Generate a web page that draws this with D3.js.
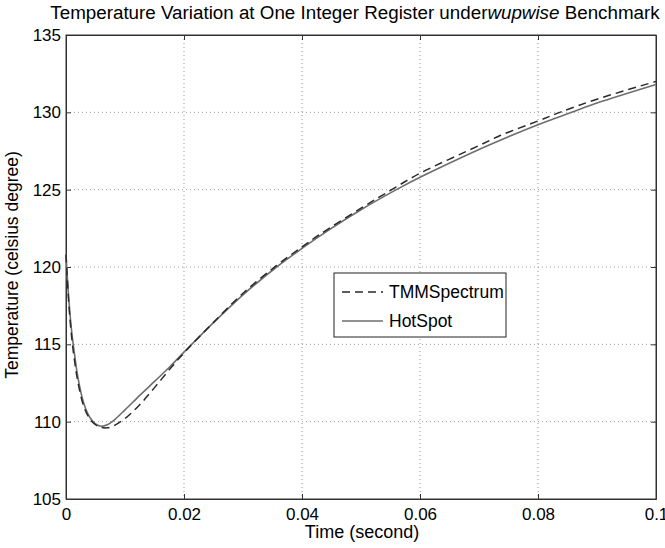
<!DOCTYPE html>
<html>
<head>
<meta charset="utf-8">
<script src="https://cdn.jsdelivr.net/npm/d3@7"></script>
<style>
  body { margin: 0; background: #fff; }
  text { font-family: "Liberation Sans", Arial, sans-serif; fill: #000; }
</style>
</head>
<body>
<div id="chart"></div>
<script>
// time (second) and temperature (celsius degree)
const timeTMM = [0, 0.0005, 0.001, 0.0015, 0.002, 0.003, 0.004, 0.005, 0.006, 0.007, 0.008, 0.01, 0.0125, 0.015, 0.0176, 0.02, 0.022, 0.025, 0.03, 0.0357, 0.04, 0.043, 0.05, 0.0552, 0.06, 0.07, 0.0736, 0.08, 0.0837, 0.09, 0.1];
const tempTMM = [120.8, 117.5, 115.3, 113.8, 112.6, 111.0, 110.2, 109.8, 109.62, 109.6, 109.72, 110.2, 111.1, 112.2, 113.4, 114.45, 115.25, 116.42, 118.3, 120.1, 121.3, 122.1, 123.8, 125.0, 126.06, 127.85, 128.5, 129.44, 130.0, 130.85, 132.0];

const timeHot = [0, 0.0005, 0.001, 0.0015, 0.002, 0.003, 0.004, 0.005, 0.006, 0.007, 0.008, 0.01, 0.0125, 0.015, 0.0176, 0.02, 0.0213, 0.025, 0.03, 0.0357, 0.04, 0.043, 0.05, 0.056, 0.06, 0.07, 0.0736, 0.08, 0.0857, 0.09, 0.1];
const tempHot = [120.8, 117.8, 115.7, 114.2, 112.9, 111.2, 110.3, 109.85, 109.7, 109.8, 110.05, 110.76, 111.7, 112.6, 113.55, 114.5, 115.0, 116.4, 118.2, 120.0, 121.2, 122.0, 123.7, 125.0, 125.8, 127.6, 128.2, 129.2, 130.0, 130.6, 131.8];

const xTicks = [0, 0.02, 0.04, 0.06, 0.08, 0.1];
const yTicks = [105, 110, 115, 120, 125, 130, 135];
const seriesNames = ["TMMSpectrum", "HotSpot"];

const margin = {top: 35, right: 9, bottom: 49, left: 66},
    width = 665 - margin.left - margin.right,
    height = 548 - margin.top - margin.bottom;

const root = d3.select("#chart")
  .append("svg")
    .attr("width", 665)
    .attr("height", 548);

const svg = root.append("g")
    .attr("transform", "translate(" + margin.left + "," + margin.top + ")");

const x = d3.scaleLinear().domain([0, 0.1]).range([0, width]);
const y = d3.scaleLinear().domain([105, 135]).range([height, 0]);

// dotted grid
svg.append("g")
  .selectAll("line")
  .data(xTicks.slice(1, -1))
  .join("line")
    .attr("x1", d => x(d)).attr("x2", d => x(d))
    .attr("y1", 0).attr("y2", height)
    .attr("stroke", "#999")
    .attr("stroke-dasharray", "1,3");

svg.append("g")
  .selectAll("line")
  .data(yTicks.slice(1, -1))
  .join("line")
    .attr("y1", d => y(d)).attr("y2", d => y(d))
    .attr("x1", 0).attr("x2", width)
    .attr("stroke", "#999")
    .attr("stroke-dasharray", "1,3");

// axes, ticks pointing inward
const fmtX = d => d === 0 ? "0" : String(+d.toFixed(2));

svg.append("g")
  .attr("transform", "translate(0," + height + ")")
  .call(d3.axisBottom(x).tickValues(xTicks).tickFormat(fmtX).tickSizeInner(-5).tickSizeOuter(0).tickPadding(9))
  .call(g => g.selectAll("text").style("font-size", "17px"));

svg.append("g")
  .call(d3.axisTop(x).tickValues(xTicks).tickFormat("").tickSizeInner(-5).tickSizeOuter(0));

svg.append("g")
  .call(d3.axisLeft(y).tickValues(yTicks).tickFormat(d3.format("d")).tickSizeInner(-5).tickSizeOuter(0).tickPadding(5))
  .call(g => g.selectAll("text").style("font-size", "17px"));

svg.append("g")
  .attr("transform", "translate(" + width + ",0)")
  .call(d3.axisRight(y).tickValues(yTicks).tickFormat("").tickSizeInner(-5).tickSizeOuter(0));

svg.selectAll(".domain, .tick line").attr("stroke", "#333");

// box
svg.append("rect")
  .attr("width", width)
  .attr("height", height)
  .attr("fill", "none")
  .attr("stroke", "#333");

// curves
const line = d3.line()
  .x(d => x(d[0]))
  .y(d => y(d[1]))
  .curve(d3.curveCatmullRom.alpha(0.5));

svg.append("path")
  .datum(d3.zip(timeHot, tempHot))
  .attr("fill", "none")
  .attr("stroke", "#6e6e6e")
  .attr("stroke-width", 1.6)
  .attr("d", line);

svg.append("path")
  .datum(d3.zip(timeTMM, tempTMM))
  .attr("fill", "none")
  .attr("stroke", "#2a2a2a")
  .attr("stroke-width", 1.5)
  .attr("stroke-dasharray", "8,5")
  .attr("d", line);

// legend
const legend = root.append("g").attr("transform", "translate(334,273)");
legend.append("rect")
  .attr("width", 172).attr("height", 64)
  .attr("fill", "#fff")
  .attr("stroke", "#222");

legend.append("line")
  .attr("x1", 8).attr("x2", 49).attr("y1", 19).attr("y2", 19)
  .attr("stroke", "#2a2a2a").attr("stroke-width", 1.5)
  .attr("stroke-dasharray", "8,5");
legend.append("line")
  .attr("x1", 8).attr("x2", 49).attr("y1", 48).attr("y2", 48)
  .attr("stroke", "#6e6e6e").attr("stroke-width", 1.6);

legend.selectAll("text.lbl")
  .data(seriesNames)
  .join("text")
    .attr("class", "lbl")
    .attr("x", 55)
    .attr("y", (d, i) => 25 + i * 29)
    .style("font-size", "17.5px")
    .text(d => d);

// title
const title = root.append("text")
  .attr("x", 355)
  .attr("y", 19)
  .attr("text-anchor", "middle")
  .style("font-size", "18.8px");
title.append("tspan").text("Temperature Variation at One Integer Register under");
title.append("tspan").style("font-style", "italic").text("wupwise");
title.append("tspan").text(" Benchmark");

// axis labels
root.append("text")
  .attr("x", 362)
  .attr("y", 538)
  .attr("text-anchor", "middle")
  .style("font-size", "18px")
  .text("Time (second)");

root.append("text")
  .attr("transform", "rotate(-90)")
  .attr("x", -265)
  .attr("y", 18)
  .attr("text-anchor", "middle")
  .style("font-size", "17.5px")
  .text("Temperature (celsius degree)");
</script>
</body>
</html>
